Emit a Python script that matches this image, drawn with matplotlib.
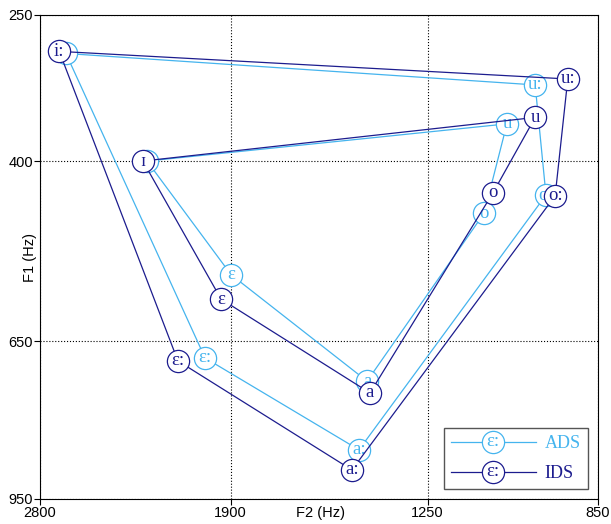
import matplotlib
matplotlib.use('Agg')
import matplotlib.pyplot as plt
import numpy as np
from matplotlib.lines import Line2D
from matplotlib.text import Text
from matplotlib.legend_handler import HandlerBase

# ---------- DATA (Hz) ----------
vowels = ['i:', 'u:', 'o:', 'a:', 'ɛ:', 'ɪ', 'u', 'o', 'a', 'ɛ']
ads_f1 = [286, 317, 441, 847, 678, 400, 358, 464, 718, 548]
ads_f2 = [2658, 983, 959, 1450, 2003, 2256, 1048, 1103, 1425, 1898]
ids_f1 = [284, 311, 442, 888, 683, 400, 351, 438, 739, 584]
ids_f2 = [2694, 912, 939, 1472, 2118, 2275, 983, 1081, 1416, 1938]

x_ticks = [2800, 1900, 1250, 850]
y_ticks = [250, 400, 650, 950]

long_order = [0, 1, 2, 3, 4, 0]
short_order = [5, 6, 7, 8, 9, 5]

ADS_COL = '#45b4ee'
IDS_COL = '#1c1c8e'
serif = ['Liberation Serif', 'DejaVu Serif']
sans = ['Liberation Sans', 'DejaVu Sans']


# ERB-rate scale for both axes
def erb(f):
    return 21.4 * np.log10(1 + 0.00437 * np.asarray(f, dtype=float))


def erb_inv(e):
    return (10 ** (np.asarray(e, dtype=float) / 21.4) - 1) / 0.00437


class CircleLabelHandler(HandlerBase):
    # legend key: line with a circled vowel symbol in the middle
    def create_artists(self, legend, orig, xdescent, ydescent, width, height, fontsize, trans):
        col = orig.get_color()
        y = height / 2 - ydescent
        xm = width / 2 - xdescent
        line = Line2D([-xdescent, width - xdescent], [y, y], color=col, lw=0.9)
        circ = Line2D([xm], [y], marker='o', ms=16, mfc='white', mec=col, mew=0.9)
        txt = Text(xm, y, 'ɛ:', ha='center', va='center', color=col,
                   fontsize=13.5, family=serif)
        for a in (line, circ, txt):
            a.set_transform(trans)
        return [line, circ, txt]


fig = plt.figure(figsize=(6.11, 5.24), dpi=100)
ax = fig.add_axes([40 / 611, 1 - 499 / 524, 558 / 611, 484.5 / 524])
ax.set_xscale('function', functions=(erb, erb_inv))
ax.set_yscale('function', functions=(erb, erb_inv))


def draw_speaker(f1, f2, col, z):
    for order in (long_order, short_order):
        ax.plot([f2[i] for i in order], [f1[i] for i in order],
                color=col, lw=0.9, zorder=z)
    ax.plot(f2, f1, 'o', ls='none', ms=16, mfc='white', mec=col, mew=0.9, zorder=z + 0.1)
    for v, x, y in zip(vowels, f2, f1):
        ax.text(x, y, v, ha='center', va='center', color=col, fontsize=13.5,
                family=serif, zorder=z + 0.2)


draw_speaker(ads_f1, ads_f2, ADS_COL, 3)
draw_speaker(ids_f1, ids_f2, IDS_COL, 4)

ax.set_xlim(2800, 850)
ax.set_ylim(950, 250)
ax.set_xticks(x_ticks)
ax.set_xticklabels([str(t) for t in x_ticks])
ax.set_yticks(y_ticks)
ax.set_yticklabels([str(t) for t in y_ticks])
ax.minorticks_off()
ax.tick_params(length=4, width=0.8, pad=1, labelsize=10.5)
for lab in ax.get_xticklabels() + ax.get_yticklabels():
    lab.set_family(sans)
ax.grid(True, ls=':', color='black', lw=0.8)
for s in ax.spines.values():
    s.set_linewidth(0.8)

fig.text(320 / 611, 1 - 513 / 524, 'F2 (Hz)', ha='center', va='center',
         fontsize=10.5, family=sans)
fig.text(30 / 611, 1 - 258 / 524, 'F1 (Hz)', ha='center', va='center',
         fontsize=10.5, family=sans, rotation=90)

handles = [Line2D([], [], color=ADS_COL), Line2D([], [], color=IDS_COL)]
leg = ax.legend(handles, ['ADS', 'IDS'],
                handler_map={h: CircleLabelHandler() for h in handles},
                loc='lower right', prop={'family': serif, 'size': 13},
                fancybox=False, framealpha=1, edgecolor='#555555',
                handlelength=4.7, handletextpad=0.5, borderpad=0.4,
                labelspacing=0.7, borderaxespad=0.55)
leg.get_frame().set_linewidth(1.0)
for txt, col in zip(leg.get_texts(), (ADS_COL, IDS_COL)):
    txt.set_color(col)
leg.set_zorder(10)

fig.savefig('out.png', dpi=100)
